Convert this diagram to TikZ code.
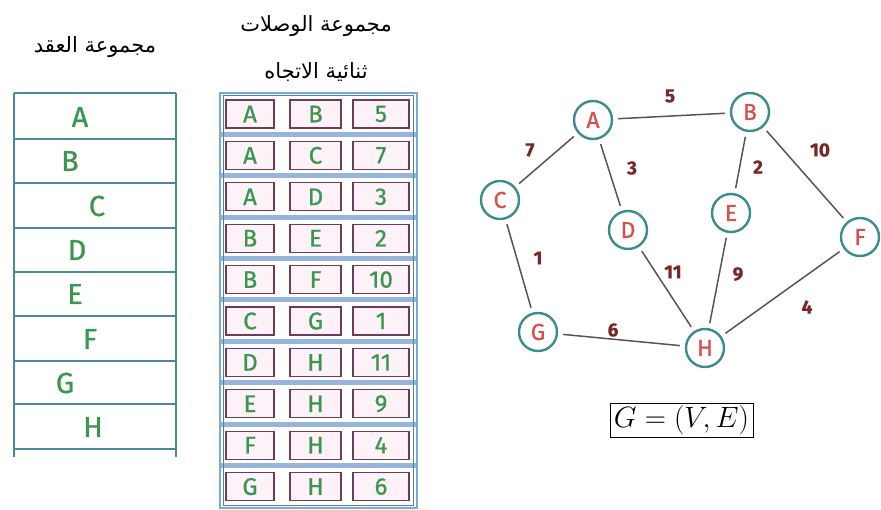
\documentclass[tikz,border=0pt]{standalone}
\usepackage{fontspec}
\usepackage{graphicx}
\setmainfont{Liberation Sans}
\newfontfamily\arabicfont[Script=Arabic]{DejaVu Sans}
\newfontfamily\handfont[FakeBold=0.8]{Fira Sans}
\TeXXeTstate=1
\definecolor{tealline}{RGB}{74,138,150}
\definecolor{hgreen}{RGB}{60,150,80}
\definecolor{frameblue}{RGB}{120,170,215}
\definecolor{sepblue}{RGB}{150,180,220}
\definecolor{boxpurple}{RGB}{110,60,90}
\definecolor{boxfill}{RGB}{253,242,247}
\definecolor{circteal}{RGB}{60,140,140}
\definecolor{nodered}{RGB}{215,80,75}
\definecolor{edgegrey}{RGB}{85,85,85}
\definecolor{wred}{RGB}{120,40,40}
\tikzset{
  heading/.style={font=\arabicfont\fontsize{21}{24}\selectfont, inner sep=0pt},
  tline/.style={draw=tealline, line width=2pt},
  leftletter/.style={font=\handfont\fontsize{29}{32}\selectfont, text=hgreen, inner sep=0pt},
  cellbox/.style={draw=boxpurple, fill=boxfill, line width=1.3pt},
  cellletter/.style={font=\handfont\fontsize{24}{26}\selectfont, text=hgreen, inner sep=0pt},
  vertex/.style={circle, draw=circteal, line width=2.4pt, fill=white, minimum size=38pt, inner sep=0pt,
     font=\handfont\fontsize{23}{25}\selectfont, text=nodered},
  gedge/.style={draw=edgegrey, line width=1.5pt, shorten >=5pt, shorten <=5pt},
  wlabel/.style={font=\handfont\bfseries\fontsize{19}{21}\selectfont, text=wred, inner sep=0pt},
}
\begin{document}
\begin{tikzpicture}[x=1pt, y=-1pt]
\useasboundingbox (0,0) rectangle (881,510);
% headings
\node[heading] (h1) at (95,47) {\beginR مجموعة العقد\endR};
\node[heading] (h2) at (316,26) {\beginR مجموعة الوصلات\endR};
\node[heading] (h3) at (316,72) {\beginR ثنائية الاتجاه\endR};
% left table
\draw[tline] (14,93) -- (14,457);
\draw[tline] (176,93) -- (176,457);
\foreach \yy in {93,139,183,228,272,316,361,404,449}
  \draw[tline] (14,\yy) -- (176,\yy);
\node[leftletter] (la) at (80,117) {A};
\node[leftletter] (lb) at (70,161) {B};
\node[leftletter] (lc) at (97,206) {C};
\node[leftletter] (ld) at (77,250) {D};
\node[leftletter] (le) at (75,294) {E};
\node[leftletter] (lf) at (90,339) {F};
\node[leftletter] (lg) at (65,383) {G};
\node[leftletter] (lh) at (93,427) {H};
% middle table
\fill[white] (220,93) rectangle (417,508);
\foreach \k in {1,...,9}
  \draw[sepblue, line width=5pt] (220,93+41.4*\k) -- (417,93+41.4*\k);
\draw[frameblue, line width=2.5pt] (220,93) rectangle (417,508);
\draw[tealline, line width=1pt] (223.5,96) rectangle (413.5,505);
\foreach \a/\b/\w [count=\i from 0] in {A/B/5,A/C/7,A/D/3,B/E/2,B/F/10,C/G/1,D/H/11,E/H/9,F/H/4,G/H/6}{
  \pgfmathsetmacro{\tp}{93+41.4*\i+7}
  \pgfmathsetmacro{\bt}{93+41.4*\i+35}
  \pgfmathsetmacro{\md}{93+41.4*\i+21}
  \draw[cellbox] (226,\tp) rectangle (274,\bt);
  \draw[cellbox] (290,\tp) rectangle (341,\bt);
  \draw[cellbox] (353,\tp) rectangle (409,\bt);
  \node[cellletter] (ca\i) at (250,\md) {\a};
  \node[cellletter] (cb\i) at (315.5,\md) {\b};
  \node[cellletter] (cw\i) at (381,\md) {\w};
}
% graph
\node[vertex] (A) at (593,120) {A};
\node[vertex] (B) at (750,112) {B};
\node[vertex] (C) at (500,200) {C};
\node[vertex] (D) at (628,230) {D};
\node[vertex] (E) at (731,213) {E};
\node[vertex] (F) at (860,237) {F};
\node[vertex] (G) at (538,332) {G};
\node[vertex] (H) at (705,348) {H};
\draw[gedge] (A) -- (B);
\draw[gedge] (A) -- (C);
\draw[gedge] (A) -- (D);
\draw[gedge] (B) -- (E);
\draw[gedge] (B) -- (F);
\draw[gedge] (C) -- (G);
\draw[gedge] (D) -- (H);
\draw[gedge] (E) -- (H);
\draw[gedge] (F) -- (H);
\draw[gedge] (G) -- (H);
\node[wlabel] (w5) at (670,96) {5};
\node[wlabel] (w7) at (530,150) {7};
\node[wlabel] (w3) at (632,168) {3};
\node[wlabel] (w2) at (758,167) {2};
\node[wlabel] (w10) at (820,150) {10};
\node[wlabel] (w1) at (538,258) {1};
\node[wlabel] (w11) at (673,272) {11};
\node[wlabel] (w9) at (738,274) {9};
\node[wlabel] (w4) at (807,307) {4};
\node[wlabel] (w6) at (613,330) {6};
\node[draw=black, line width=0.8pt, inner sep=1pt, minimum width=143pt, minimum height=34pt,
  font=\fontsize{24}{26}\selectfont] (eq) at (681.5,420) {\scalebox{1.18}{$G = (V\!, E)$}};
\end{tikzpicture}
\end{document}
